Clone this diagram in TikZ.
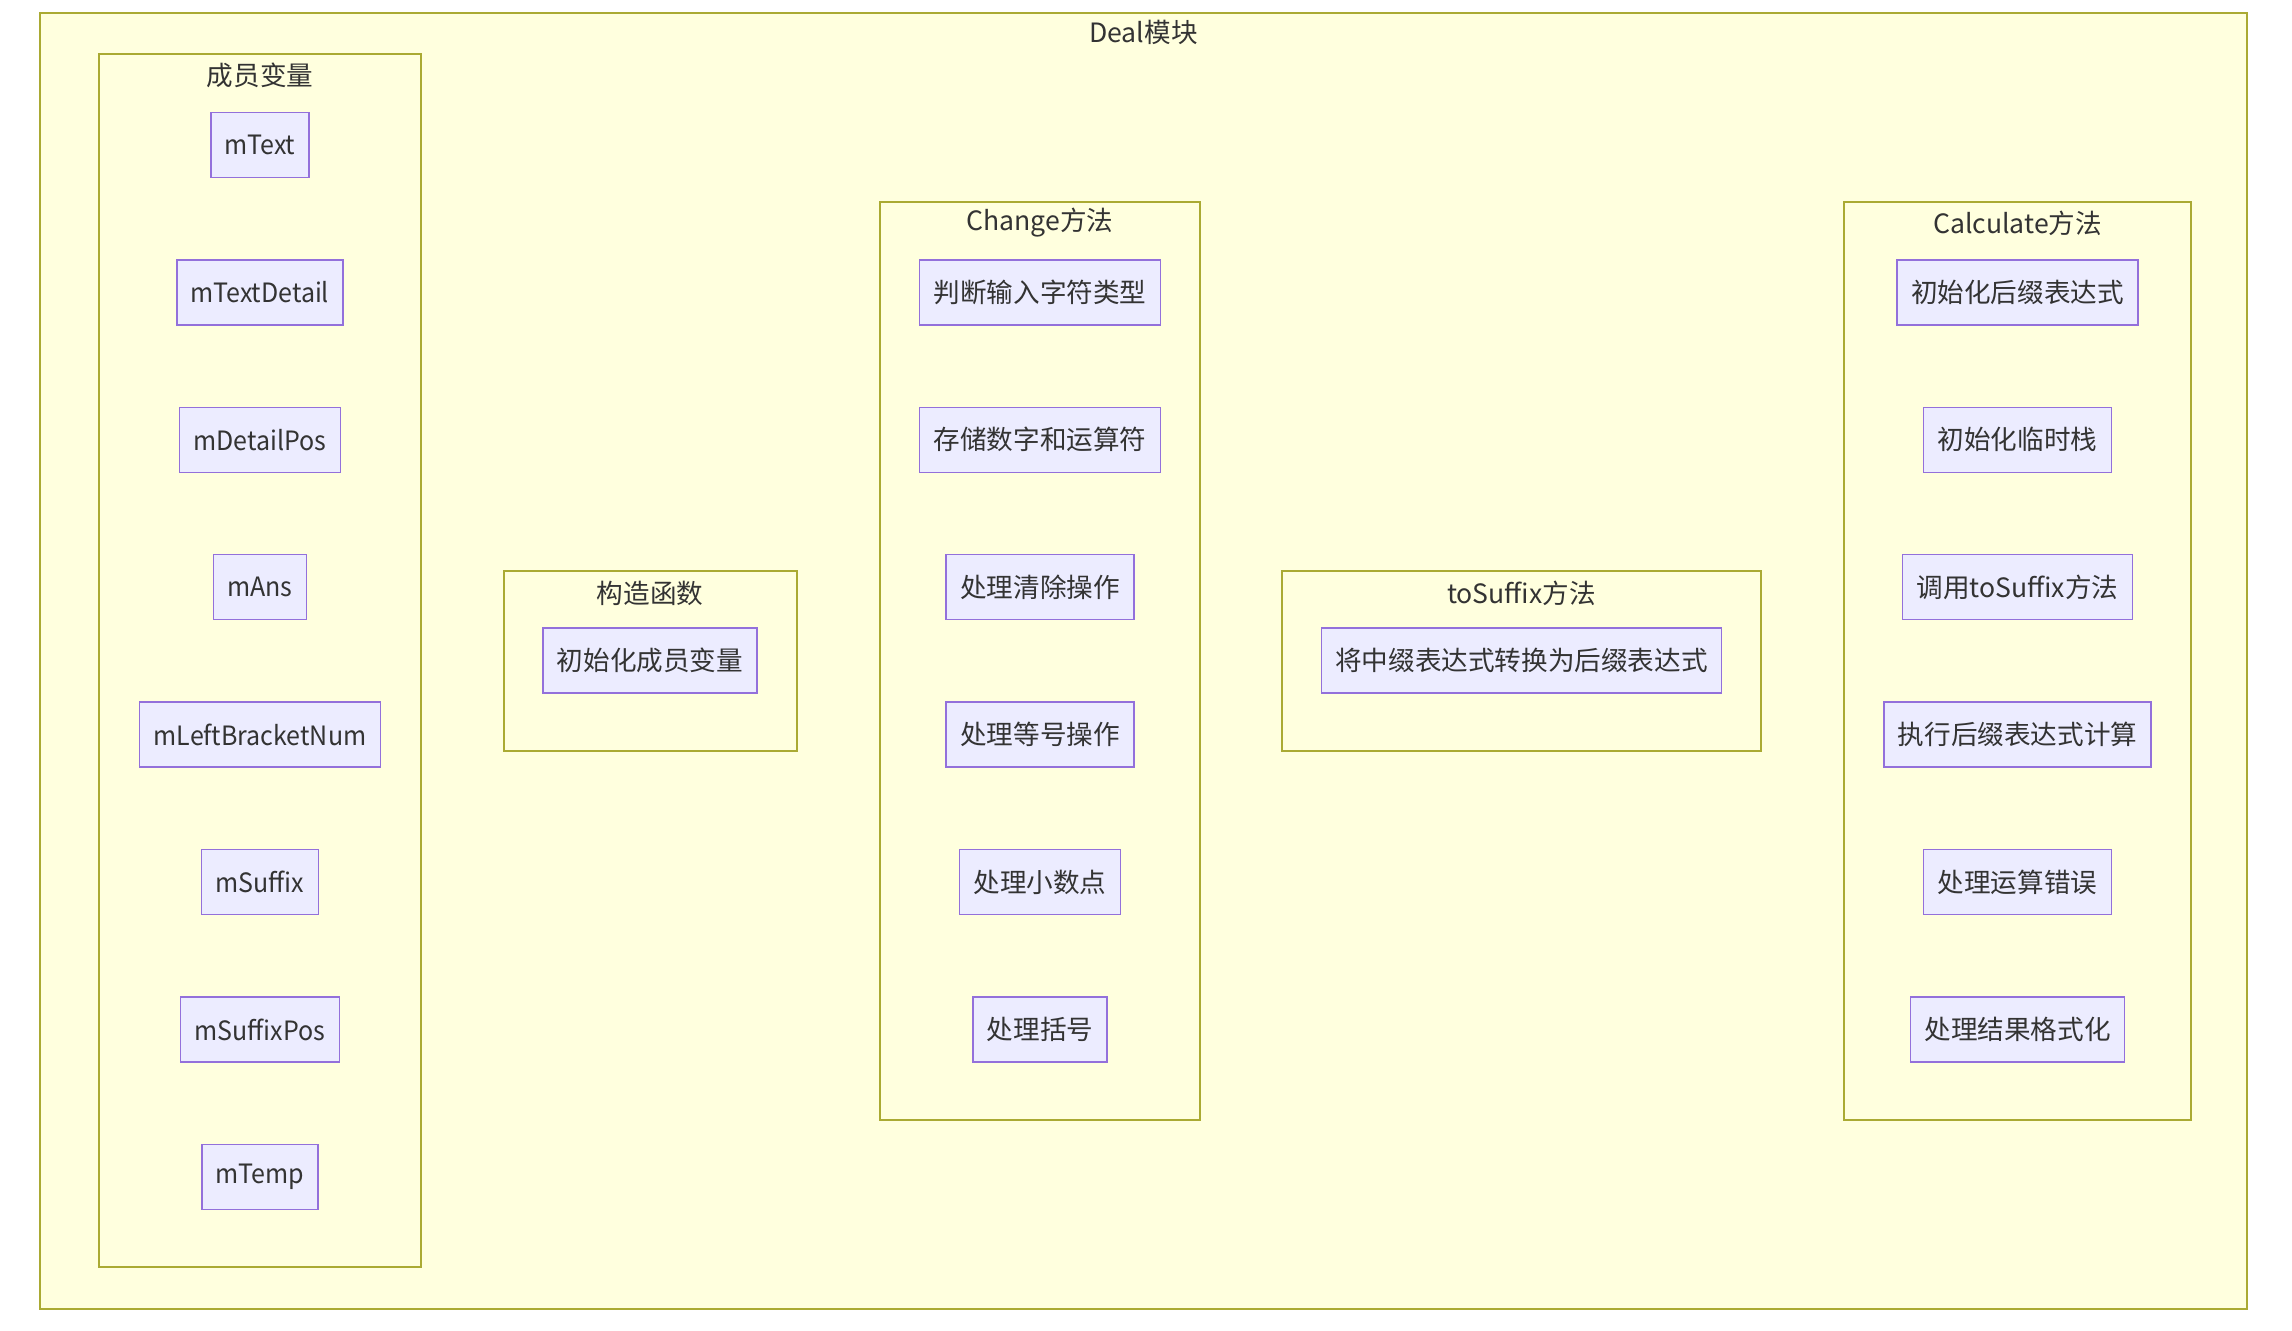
\documentclass[tikz,border=0pt]{standalone}
\usepackage{fontspec}
\setmainfont{Noto Sans CJK SC}
\newfontfamily\latfont{Noto Sans CJK SC}[FakeStretch=0.94]
\definecolor{clfill}{HTML}{FFFFDE}
\definecolor{cldraw}{HTML}{AAAA33}
\definecolor{ndfill}{HTML}{ECECFF}
\definecolor{nddraw}{HTML}{9370DB}
\definecolor{txt}{HTML}{333333}
\begin{document}
\begin{tikzpicture}[x=0.5pt, y=-0.5pt,
    every node/.style={text=txt, font=\fontsize{13.3}{15}\selectfont},
    grp/.style={draw=cldraw, fill=clfill, line width=0.75pt},
    item/.style={draw=nddraw, fill=ndfill, line width=0.75pt, inner xsep=7pt,
        minimum height=32.5pt, inner ysep=0pt},
    var/.style={item, font=\fontsize{13.3}{15}\latfont}]
    \useasboundingbox (0,0) rectangle (2292,1330);
    % outer module
    \draw[grp] (40,13) rectangle (2247,1309);
    \node (deal) at (1143.5,32) {Deal模块};
    % member box
    \draw[grp] (99,54) rectangle (421,1267);
    \node (members) at (260,75) {成员变量};
    \node[var] (mtext) at (260,145) {mText};
    \node[var] (mtextdetail) at (260,292.4) {mTextDetail};
    \node[var] (mdetailpos) at (260,439.8) {mDetailPos};
    \node[var] (mans) at (260,587.2) {mAns};
    \node[var] (mleft) at (260,734.6) {mLeftBracketNum};
    \node[var] (msuffix) at (260,882) {mSuffix};
    \node[var] (msuffixpos) at (260,1029.4) {mSuffixPos};
    \node[var] (mtemp) at (260,1176.8) {mTemp};
    % constructor box
    \draw[grp] (504,571) rectangle (797,751);
    \node (ctor) at (650,593) {构造函数};
    \node[item] (ctorinit) at (650,660.5) {初始化成员变量};
    % change box
    \draw[grp] (880,202) rectangle (1200,1120);
    \node (change) at (1040,223) {Change方法};
    \node[item] (chtype) at (1040,292.4) {判断输入字符类型};
    \node[item] (chstore) at (1040,439.8) {存储数字和运算符};
    \node[item] (chclear) at (1040,587.2) {处理清除操作};
    \node[item] (chequal) at (1040,734.6) {处理等号操作};
    \node[item] (chpoint) at (1040,882) {处理小数点};
    \node[item] (chbracket) at (1040,1029.4) {处理括号};
    % tosuffix box
    \draw[grp] (1282,571) rectangle (1761,751);
    \node (tosuffix) at (1521.5,593) {toSuffix方法};
    \node[item] (tsconvert) at (1521.5,660.5) {将中缀表达式转换为后缀表达式};
    % calculate box
    \draw[grp] (1844,202) rectangle (2191,1120);
    \node (calc) at (2017.5,223) {Calculate方法};
    \node[item] (cainit) at (2017.5,292.4) {初始化后缀表达式};
    \node[item] (castack) at (2017.5,439.8) {初始化临时栈};
    \node[item] (cacall) at (2017.5,587.2) {调用toSuffix方法};
    \node[item] (carun) at (2017.5,734.6) {执行后缀表达式计算};
    \node[item] (caerror) at (2017.5,882) {处理运算错误};
    \node[item] (caformat) at (2017.5,1029.4) {处理结果格式化};
\end{tikzpicture}
\end{document}
